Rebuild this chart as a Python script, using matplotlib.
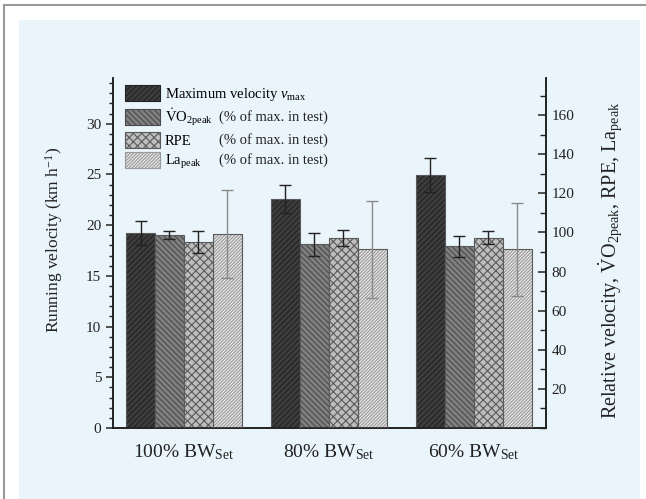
import matplotlib
matplotlib.use("Agg")
import matplotlib.pyplot as plt
import numpy as np
from matplotlib.lines import Line2D
from matplotlib.patches import Rectangle, Patch
from matplotlib.ticker import MultipleLocator, FixedLocator

# --- data -----------------------------------------------------------------
conditions = [r"100% BW$_{\mathrm{Set}}$", r"80% BW$_{\mathrm{Set}}$", r"60% BW$_{\mathrm{Set}}$"]

vmax = [19.2, 22.6, 24.95]          # km/h, left axis
vmax_err = [1.2, 1.4, 1.7]

vo2 = [98.6, 93.9, 93.0]            # % of max. in test, right axis
vo2_err = [2.0, 6.0, 5.4]
rpe = [95.2, 97.2, 97.4]
rpe_err = [5.6, 4.0, 3.4]
la = [99.3, 91.3, 91.3]
la_err = [22.6, 24.8, 23.7]

left_ticks = [0, 5, 10, 15, 20, 25, 30]
right_ticks = [20, 40, 60, 80, 100, 120, 140, 160]

# --- style -----------------------------------------------------------------
plt.rcParams["font.family"] = ["Liberation Serif", "DejaVu Serif"]
plt.rcParams["mathtext.fontset"] = "custom"
plt.rcParams["mathtext.rm"] = "Liberation Serif"
plt.rcParams["mathtext.it"] = "Liberation Serif:italic"
plt.rcParams["mathtext.bf"] = "Liberation Serif:bold"
plt.rcParams["hatch.linewidth"] = 0.8

BG = "#e9f4fb"
INK = "#222222"

fig = plt.figure(figsize=(6.46, 4.99), dpi=100)
fig.patch.set_facecolor("white")
# light blue panel and thin grey frame lines like the source page
fig.add_artist(Rectangle((19 / 646, 0), (640 - 19) / 646, 1 - 20 / 499,
                         transform=fig.transFigure, facecolor=BG, edgecolor="none", zorder=-10))
fig.add_artist(Line2D([4 / 646, 4 / 646], [0, 1 - 5 / 499], transform=fig.transFigure,
                      color="#999999", lw=1.5))
fig.add_artist(Line2D([4 / 646, 1], [1 - 5 / 499, 1 - 5 / 499], transform=fig.transFigure,
                      color="#999999", lw=1.5))

ax = fig.add_axes([113 / 646, 1 - 428 / 499, (546 - 113) / 646, (428 - 78) / 499])
ax.set_facecolor("none")
ax2 = ax.twinx()
ax2.set_facecolor("none")

x = np.arange(len(conditions))
w = 0.2

specs = [
    # (axis, values, errors, fill, hatch colour, hatch, label, error colour)
    (ax, vmax, vmax_err, "#3d3d3d", "#222222", "//////", r"Maximum velocity $\mathit{v}_{\mathrm{max}}$", INK),
    (ax2, vo2, vo2_err, "#808080", "#4a4a4a", "\\\\\\\\\\\\", r"$\dot{\mathrm{V}}\mathrm{O}_{2\mathrm{peak}}$", INK),
    (ax2, rpe, rpe_err, "#bdbdbd", "#5a5a5a", "xxxx", "RPE", INK),
    (ax2, la, la_err, "#e6e6e6", "#9a9a9a", "//////////", r"La$_{\mathrm{peak}}$", "#8a8a8a"),
]

handles = []
for i, (a, vals, errs, fc, hc, hatch, label, ec) in enumerate(specs):
    pos = x + (i - 1.5) * w
    a.bar(pos, vals, width=w, color=fc, edgecolor=hc, hatch=hatch, linewidth=0, zorder=2)
    a.bar(pos, vals, width=w, fill=False, edgecolor="#5a5a5a", linewidth=0.8, zorder=3)
    a.errorbar(pos, vals, yerr=errs, fmt="none", ecolor=ec, elinewidth=1.0,
               capsize=4, capthick=1.0, zorder=4)
    handles.append(Patch(facecolor=fc, edgecolor=hc, hatch=hatch, linewidth=0.8, label=label))

ax.set_xlim(-0.49, 2.5)
ax.set_ylim(0, 34.5)
ax2.set_ylim(0, 179)

ax.set_xticks(x)
ax.set_xticklabels(conditions, fontsize=14)
ax.tick_params(axis="x", length=0, pad=10, colors=INK)

ax.yaxis.set_major_locator(FixedLocator(left_ticks))
ax.yaxis.set_minor_locator(MultipleLocator(1))
ax.tick_params(axis="y", which="major", direction="out", length=5, width=1.1, labelsize=11, colors=INK)
ax.tick_params(axis="y", which="minor", direction="out", length=3, width=1.0, colors=INK)

ax2.yaxis.set_major_locator(FixedLocator(right_ticks))
ax2.yaxis.set_minor_locator(MultipleLocator(10))
ax2.tick_params(axis="y", which="major", direction="in", length=6, width=1.1, labelsize=11, colors=INK, pad=4)
ax2.tick_params(axis="y", which="minor", direction="in", length=4, width=1.0, colors=INK)

for a in (ax, ax2):
    a.spines["top"].set_visible(False)
    for s in ("left", "right", "bottom"):
        a.spines[s].set_linewidth(1.2)
        a.spines[s].set_color(INK)

ax.set_ylabel(r"Running velocity (km h$^{-1}$)", fontsize=12.5, color=INK)
ax.yaxis.set_label_coords(-0.112, 0.537)
ax2.set_ylabel(r"Relative velocity, $\dot{\mathrm{V}}\mathrm{O}_{2\mathrm{peak}}$, RPE, La$_{\mathrm{peak}}$",
               fontsize=14.5, color=INK)
ax2.yaxis.set_label_coords(1.117, 0.48)

leg = ax2.legend(handles=handles, loc="upper left", bbox_to_anchor=(0.008, 1.005),
                 frameon=False, fontsize=10.5, handlelength=2.4, handleheight=1.3,
                 handletextpad=0.3, labelspacing=0.28, borderaxespad=0.2)

# second legend column "(% of max. in test)" aligned with the handles
fig.canvas.draw()
inv = fig.transFigure.inverted()
for p in leg.get_patches()[1:]:
    bb = p.get_window_extent()
    _, yc = inv.transform((0, (bb.y0 + bb.y1) / 2))
    fig.text(219 / 646, yc, "(% of max. in test)", fontsize=10.5, va="center", ha="left", color=INK)

fig.savefig("out.png", dpi=100)
